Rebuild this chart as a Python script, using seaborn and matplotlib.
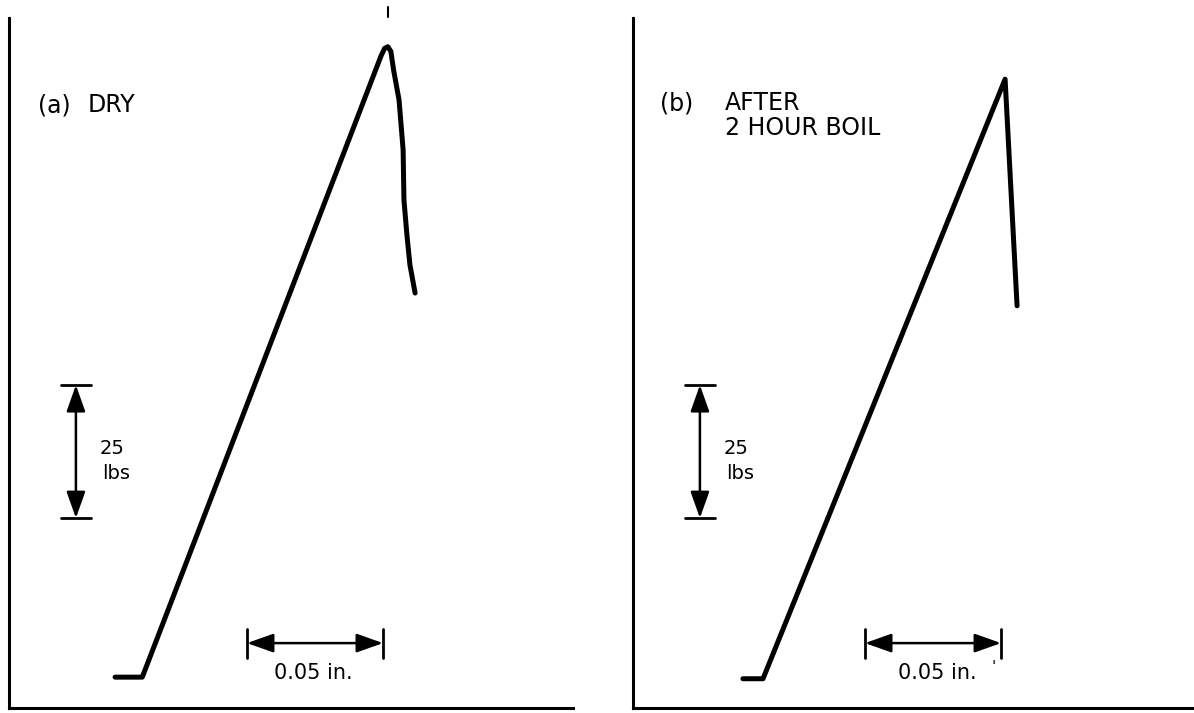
"""
Load-deflection traces, (a) dry and (b) after 2 hour boil
"""

import matplotlib
matplotlib.use("Agg")
import matplotlib.pyplot as plt
import seaborn as sns

# Trace (a) DRY: deflection (in.) vs load (lbs)
dry_defl = [0.039, 0.049, 0.1368, 0.1381, 0.1393, 0.1404, 0.1414, 0.1434, 0.1449, 0.1452, 0.1463, 0.1474, 0.1493]
dry_load = [5.8, 5.8, 122.6, 124.0, 124.3, 123.4, 119.9, 114.3, 104.9, 95.5, 88.9, 83.3, 78.0]

# Trace (b) AFTER 2 HOUR BOIL
boil_defl = [0.0404, 0.0478, 0.1368, 0.1412]
boil_load = [5.5, 5.5, 118.2, 75.6]

# Scale bars
load_scale = 25      # lbs
defl_scale = 0.05    # in.

panel_labels = ["(a)", "(b)"]
panel_titles = [["DRY"], ["AFTER", "2 HOUR BOIL"]]

W, H = 1194, 713
PX_IN = 2720.0   # pixels per inch of deflection
PX_LB = 5.32     # pixels per lb

sns.set_style("white")
plt.rcParams['font.family'] = ['DejaVu Sans']
plt.rcParams['text.color'] = 'black'

fig = plt.figure(figsize=(W / 100, H / 100), dpi=100)


def make_axes(left_px, right_px, top_px=18, bottom_px=708):
    ax = fig.add_axes([left_px / W, (H - bottom_px) / H,
                       (right_px - left_px) / W, (bottom_px - top_px) / H])
    ax.set_xlim(0, (right_px - left_px) / PX_IN)
    ax.set_ylim(0, (bottom_px - top_px) / PX_LB)
    sns.despine(ax=ax)
    for s in ['left', 'bottom']:
        ax.spines[s].set_linewidth(2.2)
        ax.spines[s].set_color('black')
    ax.set_xticks([])
    ax.set_yticks([])
    ax.set_facecolor('white')
    return ax


def scale_bars(ax, vx, vy0, hx0, hy):
    arrow = dict(arrowstyle='<|-|>,head_length=0.9,head_width=0.32', lw=1.8,
                 color='black', mutation_scale=18, shrinkA=0, shrinkB=0)
    # vertical load bar
    ax.annotate('', xy=(vx, vy0), xytext=(vx, vy0 + load_scale), arrowprops=arrow)
    cap = 0.0055
    ax.plot([vx - cap, vx + cap], [vy0, vy0], color='black', lw=2)
    ax.plot([vx - cap, vx + cap], [vy0 + load_scale] * 2, color='black', lw=2)
    # horizontal deflection bar
    ax.annotate('', xy=(hx0, hy), xytext=(hx0 + defl_scale, hy), arrowprops=arrow)
    ax.plot([hx0, hx0], [hy - 2.8, hy + 2.7], color='black', lw=2)
    ax.plot([hx0 + defl_scale] * 2, [hy - 2.8, hy + 2.7], color='black', lw=2)
    ax.text(vx + 0.0089, 48.7, f"{load_scale}", fontsize=14, va='center', ha='left')
    ax.text(vx + 0.0095, 44.0, "lbs", fontsize=14, va='center', ha='left')
    ax.text(0.1118, 6.6, f"{defl_scale:.2f} in.", fontsize=15, va='center', ha='center')


ax_a = make_axes(9, 573)
ax_b = make_axes(633, 1194)

# (a) DRY
sns.lineplot(x=dry_defl, y=dry_load, ax=ax_a, sort=False, color='black', lw=3.6,
             solid_joinstyle='round', solid_capstyle='round')
ax_a.text(0.0107, 113.3, panel_labels[0], fontsize=17, va='center', ha='left')
ax_a.text(0.029, 113.3, panel_titles[0][0], fontsize=17, va='center', ha='left')
scale_bars(ax_a, 0.0246, 35.7, 0.0875, 12.2)
ax_a.plot([0.1393, 0.1393], [129.9, 131.8], color='black', lw=1.5, clip_on=False)

# (b) AFTER 2 HOUR BOIL
sns.lineplot(x=boil_defl, y=boil_load, ax=ax_b, sort=False, color='black', lw=3.6,
             solid_joinstyle='round', solid_capstyle='round')
ax_b.text(0.0099, 113.7, panel_labels[1], fontsize=17, va='center', ha='left')
ax_b.text(0.0338, 113.7, panel_titles[1][0], fontsize=17, va='center', ha='left')
ax_b.text(0.0338, 109.0, panel_titles[1][1], fontsize=17, va='center', ha='left')
scale_bars(ax_b, 0.0246, 35.7, 0.0853, 12.2)
ax_b.text(0.1327, 7.6, "'", fontsize=11, va='center', ha='center')

fig.savefig("out.png", dpi=100)
